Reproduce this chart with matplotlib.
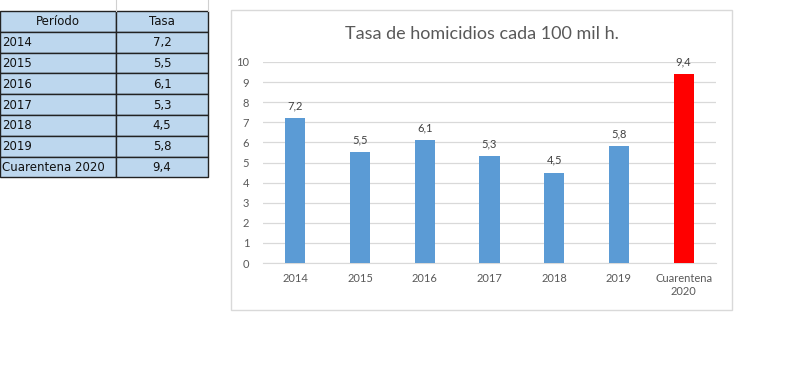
import matplotlib.pyplot as plt
from matplotlib.patches import Rectangle

plt.rcParams['font.family'] = ['Lato', 'DejaVu Sans']

periodos = ['2014', '2015', '2016', '2017', '2018', '2019', 'Cuarentena 2020']
tasas = [7.2, 5.5, 6.1, 5.3, 4.5, 5.8, 9.4]
etiquetas_x = ['2014', '2015', '2016', '2017', '2018', '2019', 'Cuarentena\n2020']
colores = ['#5B9BD5'] * 6 + ['#FF0000']

W, H = 790, 385
fig = plt.figure(figsize=(W / 100, H / 100), dpi=100)

# overlay in pixel coords for the spreadsheet table and chart frame
bg = fig.add_axes([0, 0, 1, 1])
bg.set_xlim(0, W)
bg.set_ylim(H, 0)
bg.axis('off')

# spreadsheet gridlines above the table
bg.plot([116, 116], [0, 11], color='#D0D0D0', lw=0.8)
bg.plot([208, 208], [0, 11], color='#D0D0D0', lw=0.8)

fill = '#BDD7EE'
row_h = 20.8
top = 11
col_x = [0, 116, 208]
filas = [('Período', 'Tasa')] + [(p, f'{t:.1f}'.replace('.', ',')) for p, t in zip(periodos, tasas)]
for i, (a, b) in enumerate(filas):
    y0 = top + i * row_h
    bg.add_patch(Rectangle((col_x[0], y0), col_x[1] - col_x[0], row_h, facecolor=fill, edgecolor='#222222', lw=1))
    bg.add_patch(Rectangle((col_x[1], y0), col_x[2] - col_x[1], row_h, facecolor=fill, edgecolor='#222222', lw=1))
    yc = y0 + row_h / 2 + 0.5
    if i == 0:
        bg.text(58, yc, a, ha='center', va='center', fontsize=8.5, color='#111111', family=['DejaVu Sans'])
    else:
        bg.text(2, yc, a, ha='left', va='center', fontsize=8.5, color='#111111', family=['DejaVu Sans'])
    bg.text(162, yc, b, ha='center', va='center', fontsize=8.5, color='#111111', family=['DejaVu Sans'])

# chart frame
bg.add_patch(Rectangle((231, 10), 501, 300, facecolor='white', edgecolor='#D9D9D9', lw=1))
bg.text(482, 34, 'Tasa de homicidios cada 100 mil h.', ha='center', va='center', fontsize=13, color='#595959')

ax = fig.add_axes([263 / W, 122 / H, (716 - 263) / W, (263 - 62) / H])
ax.set_zorder(2)
ax.patch.set_alpha(0)
x = range(len(tasas))
bars = ax.bar(x, tasas, width=0.31, color=colores, zorder=3)
ax.set_xlim(-0.5, len(tasas) - 0.5)
ax.set_ylim(0, 10)
ax.set_yticks(range(0, 11))
ax.grid(axis='y', color='#D9D9D9', lw=0.9, zorder=0)
for s in ['top', 'right', 'left']:
    ax.spines[s].set_visible(False)
ax.spines['bottom'].set_color('#D9D9D9')
ax.tick_params(length=0, labelsize=8, colors='#595959')
ax.tick_params(axis='y', pad=10)
ax.tick_params(axis='x', pad=7)
ax.set_xticks(list(x))
ax.set_xticklabels(etiquetas_x, linespacing=1.2)
for b, t in zip(bars, tasas):
    ax.text(b.get_x() + b.get_width() / 2, t + 0.35, f'{t:.1f}'.replace('.', ','),
            ha='center', va='bottom', fontsize=8, color='#404040')

fig.savefig('out.png', dpi=100)
